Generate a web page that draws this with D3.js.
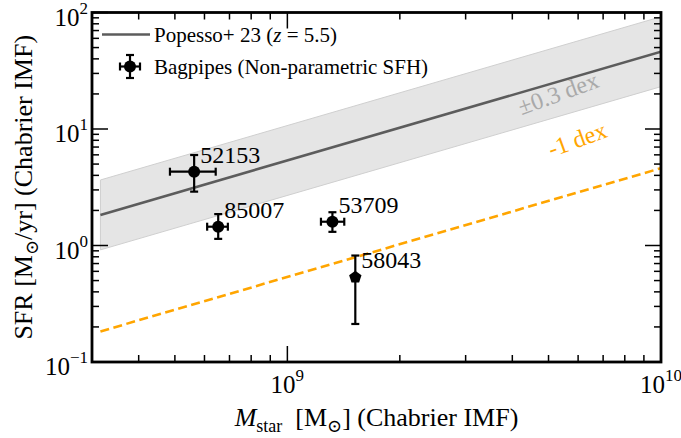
<!DOCTYPE html>
<html>
<head>
<meta charset="utf-8">
<script src="https://cdn.jsdelivr.net/npm/d3@7"></script>
<style>
  html, body { margin: 0; padding: 0; background: #fff; }
</style>
</head>
<body>
<svg id="chart" width="681" height="438" font-family="'Liberation Serif', 'Times New Roman', Times, 'DejaVu Serif', serif"></svg>
<script>
// Star-forming main sequence (Popesso+23, z = 5.5): endpoints of the relation
const msMass = [3.16e8, 1.0e10];
const msSFR = [1.83, 46.1];
const msScatterDex = 0.3;      // shaded band half-width
const offsetDex = -1;          // dashed offset line

// Bagpipes (non-parametric SFH) fits
const galaxyIds = ["52153", "85007", "53709", "58043"];
const galaxyMass = [5.63e8, 6.53e8, 1.32e9, 1.52e9];
const galaxyMassLo = [4.85e8, 6.10e8, 1.23e9, null];
const galaxyMassHi = [6.43e8, 6.93e8, 1.42e9, null];
const galaxySFR = [4.3, 1.45, 1.60, 0.533];
const galaxySFRLo = [2.90, 1.14, 1.31, 0.212];
const galaxySFRHi = [5.98, 1.86, 1.93, 0.82];

// Axis ticks
const xMajorTicks = [1e9, 1e10];
const xTickExp = ["9", "10"];
const yMajorTicks = [0.1, 1, 10, 100];
const yTickExp = ["\u22121", "0", "1", "2"];

const svg = d3.select("#chart");
const L = 92, R = 661, T = 12.5, B = 362;
const x = d3.scaleLog().domain([3e8, 1e10]).range([L, R]);
const y = d3.scaleLog().domain([0.1, 100]).range([B, T]);

svg.append("defs").append("clipPath").attr("id", "plotclip")
  .append("rect").attr("x", L).attr("y", T).attr("width", R - L).attr("height", B - T);

const plot = svg.append("g").attr("clip-path", "url(#plotclip)");

const dex = (v, d) => v * Math.pow(10, d);
const msPts = msMass.map((m, i) => ({ m, s: msSFR[i] }));

// scatter band
const band = msPts.map(p => [x(p.m), y(dex(p.s, msScatterDex))])
  .concat(msPts.slice().reverse().map(p => [x(p.m), y(dex(p.s, -msScatterDex))]));
plot.append("path")
  .attr("d", "M" + band.map(p => p.join(",")).join("L") + "Z")
  .attr("fill", "#e5e5e5").attr("stroke", "#cfcfcf").attr("stroke-width", 1);

const line = d3.line().x(p => x(p.m)).y(p => y(p.s));
plot.append("path").datum(msPts).attr("d", line)
  .attr("fill", "none").attr("stroke", "#5c5c5c").attr("stroke-width", 2.6);

plot.append("path").datum(msPts.map(p => ({ m: p.m, s: dex(p.s, offsetDex) })))
  .attr("d", line).attr("fill", "none").attr("stroke", "#ffa500")
  .attr("stroke-width", 2.6).attr("stroke-dasharray", "9,4.5");

// annotations along the relations
const angle = -20;
svg.append("text").attr("transform", `translate(561,101) rotate(${angle})`)
  .attr("text-anchor", "middle").attr("font-size", 24).attr("fill", "#a9a9a9")
  .text("\u00b10.3 dex");
svg.append("text").attr("transform", `translate(580,147) rotate(${angle})`)
  .attr("text-anchor", "middle").attr("font-size", 24).attr("fill", "#ffa500")
  .text("-1 dex");

// error bars + markers
function errorBar(g, cx, cy, x0, x1, y0, y1, cap) {
  const st = s => s.attr("stroke", "#000").attr("stroke-width", 2.2);
  if (x0 != null) {
    st(g.append("line").attr("x1", x0).attr("x2", x1).attr("y1", cy).attr("y2", cy));
    st(g.append("line").attr("x1", x0).attr("x2", x0).attr("y1", cy - cap).attr("y2", cy + cap));
    st(g.append("line").attr("x1", x1).attr("x2", x1).attr("y1", cy - cap).attr("y2", cy + cap));
  }
  if (y0 != null) {
    st(g.append("line").attr("x1", cx).attr("x2", cx).attr("y1", y0).attr("y2", y1));
    st(g.append("line").attr("x1", cx - cap).attr("x2", cx + cap).attr("y1", y0).attr("y2", y0));
    st(g.append("line").attr("x1", cx - cap).attr("x2", cx + cap).attr("y1", y1).attr("y2", y1));
  }
}
function marker(g, cx, cy, shape) {
  if (shape === "pentagon") {
    const r = 6.5;
    const pts = d3.range(5).map(k => {
      const a = -Math.PI / 2 + k * 2 * Math.PI / 5;
      return [cx + r * Math.cos(a), cy + r * Math.sin(a)];
    });
    g.append("polygon").attr("points", pts.map(p => p.join(",")).join(" ")).attr("fill", "#000");
  } else {
    g.append("circle").attr("cx", cx).attr("cy", cy).attr("r", 6).attr("fill", "#000");
  }
}

const pts = svg.append("g");
galaxyIds.forEach((id, i) => {
  const cx = x(galaxyMass[i]), cy = y(galaxySFR[i]);
  errorBar(pts, cx, cy,
    galaxyMassLo[i] == null ? null : x(galaxyMassLo[i]),
    galaxyMassHi[i] == null ? null : x(galaxyMassHi[i]),
    y(galaxySFRLo[i]), y(galaxySFRHi[i]), 4);
  marker(pts, cx, cy, id === "58043" ? "pentagon" : "circle");
  pts.append("text").attr("x", cx + 6).attr("y", cy - 9)
    .attr("font-size", 24).attr("fill", "#000").text(id);
});

// frame and ticks
const axes = svg.append("g");
function tick(x1, y1, x2, y2) {
  axes.append("line").attr("x1", x1).attr("y1", y1).attr("x2", x2).attr("y2", y2)
    .attr("stroke", "#000").attr("stroke-width", 1.5);
}
const xMinor = [];
[1e8, 1e9].forEach(d => d3.range(2, 10).forEach(k => {
  const v = k * d; if (v > 3e8 && v < 1e10) xMinor.push(v);
}));
const yMinor = [];
[0.1, 1, 10].forEach(d => d3.range(2, 10).forEach(k => yMinor.push(k * d)));
const MAJ = 16, MIN = 7;
xMajorTicks.forEach(v => { tick(x(v), B, x(v), B - MAJ); tick(x(v), T, x(v), T + MAJ); });
xMinor.forEach(v => { tick(x(v), B, x(v), B - MIN); tick(x(v), T, x(v), T + MIN); });
yMajorTicks.forEach(v => { tick(L, y(v), L + MAJ, y(v)); tick(R, y(v), R - MAJ, y(v)); });
yMinor.forEach(v => { tick(L, y(v), L + MIN, y(v)); tick(R, y(v), R - MIN, y(v)); });
axes.append("rect").attr("x", L).attr("y", T).attr("width", R - L).attr("height", B - T)
  .attr("fill", "none").attr("stroke", "#000").attr("stroke-width", 2.8);

// tick labels: 10^n
function powLabel(px, py, exp, anchor) {
  const t = svg.append("text").attr("x", px).attr("y", py)
    .attr("font-size", 25).attr("text-anchor", anchor).attr("fill", "#000");
  t.append("tspan").text("10");
  t.append("tspan").attr("dy", -12).attr("font-size", 17).text(exp);
}
xMajorTicks.forEach((v, i) => powLabel(x(v), B + 31, xTickExp[i], "middle"));
yMajorTicks.forEach((v, i) => powLabel(L - 4, y(v) + 13, yTickExp[i], "end"));

// axis titles
const xl = svg.append("text").attr("x", (L + R) / 2).attr("y", 426)
  .attr("text-anchor", "middle").attr("font-size", 26).attr("fill", "#000");
xl.append("tspan").attr("font-style", "italic").text("M");
xl.append("tspan").attr("dy", 6).attr("font-size", 18).text("star");
xl.append("tspan").attr("dy", -6).text("\u2002[M");
xl.append("tspan").attr("dy", 6).attr("font-size", 18)
  .attr("font-family", "'DejaVu Serif'").text("\u2299");
xl.append("tspan").attr("dy", -6).text("] (Chabrier IMF)");

const yl = svg.append("text").attr("transform", `translate(32,${(T + B) / 2}) rotate(-90)`)
  .attr("text-anchor", "middle").attr("font-size", 26).attr("fill", "#000");
yl.append("tspan").text("SFR [M");
yl.append("tspan").attr("dy", 6).attr("font-size", 18)
  .attr("font-family", "'DejaVu Serif'").text("\u2299");
yl.append("tspan").attr("dy", -6).text("/yr] (Chabrier IMF)");

// legend
const lg = svg.append("g");
lg.append("line").attr("x1", 102).attr("x2", 150).attr("y1", 34.5).attr("y2", 34.5)
  .attr("stroke", "#5c5c5c").attr("stroke-width", 2.6);
const l1 = lg.append("text").attr("x", 154).attr("y", 42).attr("font-size", 21).attr("fill", "#000");
l1.append("tspan").text("Popesso+ 23 (");
l1.append("tspan").attr("font-style", "italic").text("z");
l1.append("tspan").text(" = 5.5)");
errorBar(lg, 130, 66.5, 120, 140, 55, 78, 4);
marker(lg, 130, 66.5, "circle");
lg.append("text").attr("x", 154).attr("y", 73.5).attr("font-size", 21).attr("fill", "#000")
  .text("Bagpipes (Non-parametric SFH)");
</script>
</body>
</html>
